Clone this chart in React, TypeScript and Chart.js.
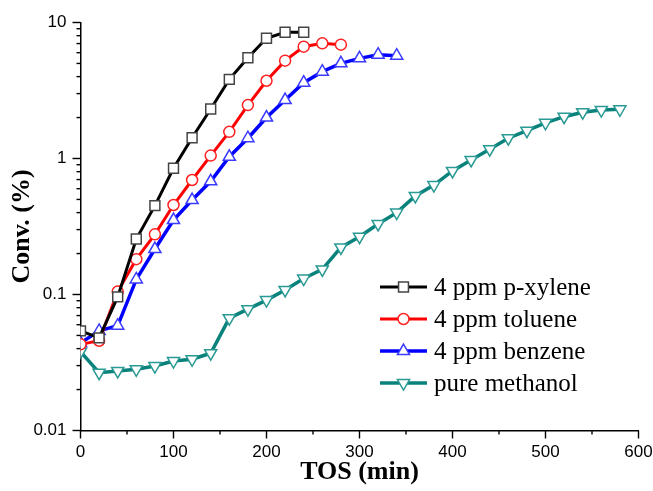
import React, { useEffect, useRef } from 'react';
import { Chart, registerables } from 'chart.js';

Chart.register(...registerables);

// ---- data ----
const xyleneTOS = [0, 20, 40, 60, 80, 100, 120, 140, 160, 180, 200, 220, 240];
const xyleneConv = [0.054, 0.048, 0.096, 0.256, 0.45, 0.847, 1.42, 2.31, 3.82, 5.51, 7.65, 8.47, 8.47];

const tolueneTOS = [0, 20, 40, 60, 80, 100, 120, 140, 160, 180, 200, 220, 240, 260, 280];
const tolueneConv = [0.043, 0.0457, 0.105, 0.182, 0.277, 0.455, 0.695, 1.05, 1.57, 2.47, 3.73, 5.24, 6.64, 7.03, 6.87];

const benzeneTOS = [0, 20, 40, 60, 80, 100, 120, 140, 160, 180, 200, 220, 240, 260, 280, 300, 320, 340];
const benzeneConv = [0.044, 0.054, 0.059, 0.129, 0.216, 0.353, 0.495, 0.68, 1.03, 1.41, 2.0, 2.69, 3.61, 4.35, 5.01, 5.45, 5.8, 5.7];

const methanolTOS = [0, 20, 40, 60, 80, 100, 120, 140, 160, 180, 200, 220, 240, 260, 280, 300, 320, 340, 360, 380, 400, 420, 440, 460, 480, 500, 520, 540, 560, 580];
const methanolConv = [0.038, 0.0266, 0.0274, 0.0282, 0.0298, 0.0324, 0.0334, 0.037, 0.067, 0.078, 0.091, 0.108, 0.131, 0.153, 0.222, 0.266, 0.33, 0.4, 0.53, 0.638, 0.81, 0.975, 1.17, 1.41, 1.6, 1.83, 2.03, 2.19, 2.27, 2.3];

const seriesLabels = ['4 ppm p-xylene', '4 ppm toluene', '4 ppm benzene', 'pure methanol'];

const xMajorTicks = [0, 100, 200, 300, 400, 500, 600];
const xMinorTicks = [50, 150, 250, 350, 450, 550];
const yMajorTicks = [0.01, 0.1, 1, 10];
const yMinorTicks = [
  0.02, 0.03, 0.04, 0.05, 0.06, 0.07, 0.08, 0.09,
  0.2, 0.3, 0.4, 0.5, 0.6, 0.7, 0.8, 0.9,
  2, 3, 4, 5, 6, 7, 8, 9,
];

const toPts = (xs: number[], ys: number[]) => xs.map((x, i) => ({ x, y: ys[i] }));

const COLORS = {
  xylene: '#000000',
  toluene: '#ff0000',
  benzene: '#0000ff',
  methanol: '#0a827c',
};

function drawMarker(ctx: CanvasRenderingContext2D, style: string, x: number, y: number, r: number, rot: number) {
  ctx.beginPath();
  if (style === 'rect') {
    const s = Math.SQRT1_2 * r;
    ctx.rect(x - s, y - s, 2 * s, 2 * s);
  } else if (style === 'circle') {
    ctx.arc(x, y, r, 0, Math.PI * 2);
  } else if (style === 'triangle') {
    let rad = (rot * Math.PI) / 180;
    ctx.moveTo(x + Math.sin(rad) * r, y - Math.cos(rad) * r);
    rad += (2 * Math.PI) / 3;
    ctx.lineTo(x + Math.sin(rad) * r, y - Math.cos(rad) * r);
    rad += (2 * Math.PI) / 3;
    ctx.lineTo(x + Math.sin(rad) * r, y - Math.cos(rad) * r);
    ctx.closePath();
  }
  ctx.fill();
  ctx.stroke();
}

const ticksPlugin = {
  id: 'customTicks',
  afterDraw(chart: any) {
    const ctx = chart.ctx as CanvasRenderingContext2D;
    const xs = chart.scales.x;
    const ys = chart.scales.y;
    const area = chart.chartArea;
    ctx.save();
    ctx.strokeStyle = '#000';
    ctx.lineWidth = 1.4;
    for (const v of xMajorTicks) {
      const p = xs.getPixelForValue(v);
      ctx.beginPath();
      ctx.moveTo(p, area.bottom);
      ctx.lineTo(p, area.bottom + 8);
      ctx.stroke();
    }
    for (const v of xMinorTicks) {
      const p = xs.getPixelForValue(v);
      ctx.beginPath();
      ctx.moveTo(p, area.bottom);
      ctx.lineTo(p, area.bottom + 4);
      ctx.stroke();
    }
    for (const v of yMajorTicks) {
      const p = ys.getPixelForValue(v);
      ctx.beginPath();
      ctx.moveTo(area.left, p);
      ctx.lineTo(area.left - 8, p);
      ctx.stroke();
    }
    for (const v of yMinorTicks) {
      const p = ys.getPixelForValue(v);
      ctx.beginPath();
      ctx.moveTo(area.left, p);
      ctx.lineTo(area.left - 4, p);
      ctx.stroke();
    }
    ctx.restore();
  },
};

const legendPlugin = {
  id: 'customLegend',
  afterDraw(chart: any) {
    const ctx = chart.ctx as CanvasRenderingContext2D;
    const x0 = 380;
    const y0 = 287;
    const dy = 32;
    const lineLen = 47;
    ctx.save();
    chart.data.datasets.forEach((ds: any, i: number) => {
      const y = y0 + i * dy;
      ctx.strokeStyle = ds.borderColor;
      ctx.lineWidth = ds.borderWidth;
      ctx.beginPath();
      ctx.moveTo(x0, y);
      ctx.lineTo(x0 + lineLen, y);
      ctx.stroke();
      ctx.fillStyle = '#fff';
      ctx.strokeStyle = ds.pointBorderColor;
      ctx.lineWidth = ds.pointBorderWidth;
      drawMarker(ctx, ds.pointStyle, x0 + lineLen / 2, y, ds.pointRadius, ds.pointRotation || 0);
      ctx.fillStyle = '#000';
      ctx.font = '25px "Liberation Serif", "Times New Roman", serif';
      ctx.textBaseline = 'middle';
      ctx.textAlign = 'left';
      ctx.fillText(ds.label, x0 + lineLen + 7, y + 1);
    });
    ctx.restore();
  },
};

export default function App() {
  const ref = useRef<HTMLCanvasElement | null>(null);

  useEffect(() => {
    if (!ref.current) return;
    const chart = new Chart(ref.current, {
      type: 'line',
      data: {
        datasets: [
          {
            label: seriesLabels[0],
            data: toPts(xyleneTOS, xyleneConv),
            borderColor: COLORS.xylene,
            borderWidth: 3,
            pointStyle: 'rect',
            pointRadius: 7,
            pointBorderWidth: 1.5,
            pointBorderColor: '#444',
            pointBackgroundColor: '#fff',
            pointRotation: 0,
          },
          {
            label: seriesLabels[1],
            data: toPts(tolueneTOS, tolueneConv),
            borderColor: COLORS.toluene,
            borderWidth: 3,
            pointStyle: 'circle',
            pointRadius: 5.5,
            pointBorderWidth: 1.5,
            pointBorderColor: '#ff2020',
            pointBackgroundColor: '#fff',
            pointRotation: 0,
          },
          {
            label: seriesLabels[2],
            data: toPts(benzeneTOS, benzeneConv),
            borderColor: COLORS.benzene,
            borderWidth: 3.5,
            pointStyle: 'triangle',
            pointRadius: 7,
            pointBorderWidth: 1.5,
            pointBorderColor: '#3b3bff',
            pointBackgroundColor: '#fff',
            pointRotation: 0,
          },
          {
            label: seriesLabels[3],
            data: toPts(methanolTOS, methanolConv),
            borderColor: COLORS.methanol,
            borderWidth: 3.5,
            pointStyle: 'triangle',
            pointRadius: 7,
            pointBorderWidth: 1.5,
            pointBorderColor: '#2a9a94',
            pointBackgroundColor: '#fff',
            pointRotation: 180,
          },
        ],
      },
      options: {
        responsive: false,
        animation: false,
        devicePixelRatio: 1,
        layout: { padding: { left: 0, right: 14.5, top: 22.5, bottom: 0 } },
        plugins: {
          legend: { display: false },
          tooltip: { enabled: false },
        },
        scales: {
          x: {
            type: 'linear',
            min: 0,
            max: 600,
            afterFit: (s: any) => {
              s.height = 491 - 430.5;
              s.paddingLeft = 0;
              s.paddingRight = 0;
            },
            ticks: {
              stepSize: 100,
              padding: 12,
              color: '#000',
              font: { family: '"Liberation Sans", Arial, sans-serif', size: 17 },
              maxRotation: 0,
            },
            grid: { display: false, drawTicks: false },
            border: { display: true, color: '#000', width: 1.5 },
            title: {
              display: true,
              text: 'TOS (min)',
              color: '#000',
              font: { family: '"Liberation Serif", "Times New Roman", serif', size: 26, weight: 'bold' },
              padding: { top: 0, bottom: 3 },
            },
          },
          y: {
            type: 'logarithmic',
            min: 0.01,
            max: 10,
            afterFit: (s: any) => {
              s.width = 80.5;
              s.paddingTop = 0;
              s.paddingBottom = 0;
            },
            afterBuildTicks: (s: any) => {
              s.ticks = yMajorTicks.map((v) => ({ value: v, major: true }));
            },
            ticks: {
              padding: 14,
              color: '#000',
              font: { family: '"Liberation Sans", Arial, sans-serif', size: 17 },
              callback: (v: any) => String(v),
            },
            grid: { display: false, drawTicks: false },
            border: { display: true, color: '#000', width: 1.5 },
            title: {
              display: true,
              text: 'Conv. (%)',
              color: '#000',
              font: { family: '"Liberation Serif", "Times New Roman", serif', size: 26, weight: 'bold' },
              padding: { top: 7, bottom: 0 },
            },
          },
        },
      },
      plugins: [ticksPlugin, legendPlugin],
    } as any);
    return () => chart.destroy();
  }, []);

  return (
    <div style={{ position: 'fixed', left: 0, top: 0, width: 653, height: 491, background: '#fff' }}>
      <canvas ref={ref} width={653} height={491} style={{ display: 'block', width: 653, height: 491 }} />
    </div>
  );
}
